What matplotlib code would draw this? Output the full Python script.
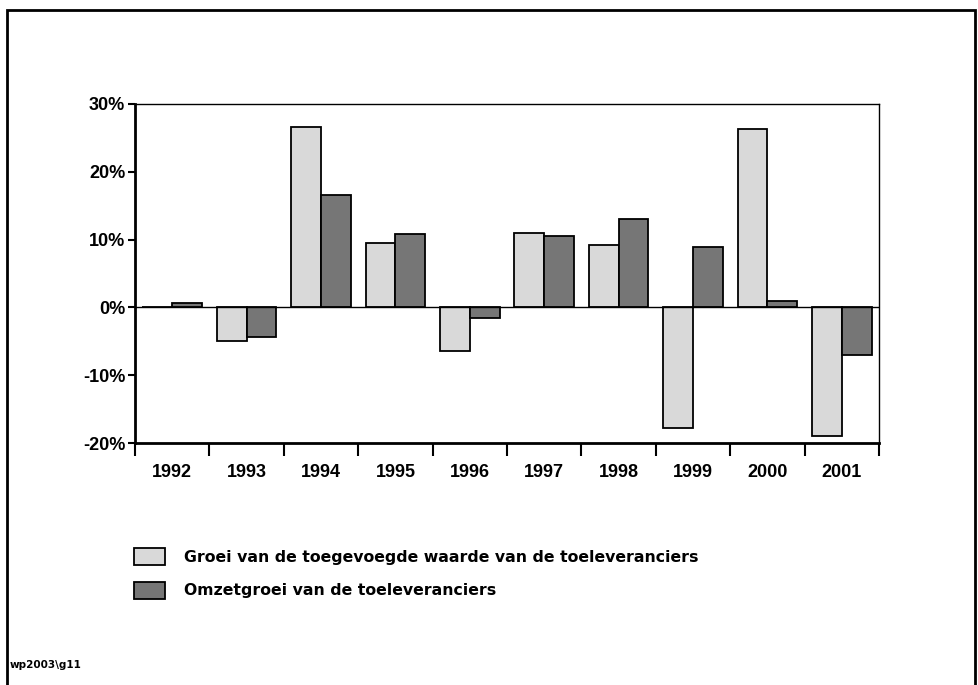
import numpy as np
import matplotlib.pyplot as plt
from matplotlib.patches import Rectangle

plt.rcParams['font.family'] = ['Liberation Sans', 'DejaVu Sans']
plt.rcParams['font.weight'] = 'bold'

years = ['1992', '1993', '1994', '1995', '1996', '1997', '1998', '1999', '2000', '2001']
toegevoegde_waarde = [0.0, -5.0, 26.6, 9.5, -6.4, 10.9, 9.2, -17.8, 26.3, -19.0]
omzetgroei = [0.6, -4.3, 16.6, 10.8, -1.5, 10.6, 13.0, 8.9, 0.9, -7.0]
labels = ['Groei van de toegevoegde waarde van de toeleveranciers',
          'Omzetgroei van de toeleveranciers']
yticks = [-20, -10, 0, 10, 20, 30]

fig = plt.figure(figsize=(9.79, 6.85), dpi=100)
ax = fig.add_axes([135/979, 1 - 443/685, 744/979, 339/685])

x = np.arange(len(years))
w = 0.4
b1 = ax.bar(x - w/2, toegevoegde_waarde, w, color='#d9d9d9', edgecolor='black',
            linewidth=1.3, label=labels[0], zorder=2)
b2 = ax.bar(x + w/2, omzetgroei, w, color='#767676', edgecolor='black',
            linewidth=1.3, label=labels[1], zorder=2)
ax.axhline(0, color='black', linewidth=1, zorder=3)

ax.set_xlim(-0.5, len(years) - 0.5)
ax.set_ylim(-20, 30)
ax.set_yticks(yticks)
ax.set_yticklabels([f'{v}%' for v in yticks], fontsize=13, fontweight='bold')
ax.set_xticks(np.arange(-0.5, len(years), 1))
ax.set_xticklabels([])
ax.set_xticks(x, minor=True)
ax.set_xticklabels(years, minor=True, fontsize=13, fontweight='bold')
ax.tick_params(axis='x', which='major', length=9, width=1.5, direction='out')
ax.tick_params(axis='x', which='minor', length=0, pad=15)
ax.tick_params(axis='y', length=5, width=1.5, direction='out', pad=2)
for s in ['left', 'bottom']:
    ax.spines[s].set_linewidth(2)
for s in ['top', 'right']:
    ax.spines[s].set_linewidth(1)

fig.legend(handles=[b1, b2], loc='upper left', bbox_to_anchor=(134/979, 1 - 548/685),
           frameon=False, prop={'family': 'DejaVu Sans', 'weight': 'bold', 'size': 11.3},
           handlelength=2.0, handleheight=1.3, handletextpad=1.2,
           labelspacing=1.05, borderpad=0, borderaxespad=0)

fig.text(10/979, 1 - 665/685, 'wp2003\\g11', fontsize=7.5, fontweight='bold',
         family='DejaVu Sans', va='center')

fig.patches.append(Rectangle((7/979, -0.05), 968/979, 1.05 - 10/685, transform=fig.transFigure,
                             fill=False, edgecolor='black', linewidth=2))

fig.savefig('out.png', dpi=100)
